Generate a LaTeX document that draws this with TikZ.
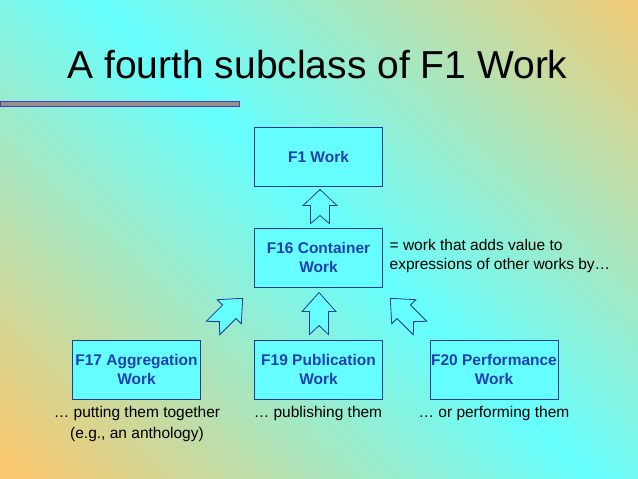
\documentclass[tikz,border=0pt]{standalone}
\usepackage{fontspec}
\setmainfont{Liberation Sans}
\usetikzlibrary{calc}
\definecolor{bgcyan}{HTML}{66FFFF}
\definecolor{bgorange}{HTML}{F8C870}
\definecolor{boxfill}{HTML}{66FFFF}
\definecolor{boxline}{HTML}{1F3A9A}
\definecolor{boxtext}{HTML}{1E40B0}
\definecolor{barfill}{HTML}{9A8E8E}
\definecolor{barline}{HTML}{4B3CC0}
\pgfdeclareverticalshading{bgshade}{100bp}{color(0bp)=(bgorange); color(10bp)=(bgorange); color(50bp)=(bgcyan); color(90bp)=(bgorange); color(100bp)=(bgorange)}
\newcommand\mkblockarrow[5]{%
  \draw[blockarrow, shift={#1}, rotate=#2]
    (#5,0) -- (0,9.5) -- ({#3-#4},9.5) -- ({#3-#4},17) -- (#3,0)
    -- ({#3-#4},-17) -- ({#3-#4},-9.5) -- (0,-9.5) -- cycle;}
\begin{document}
\begin{tikzpicture}[x=1pt,y=-1pt,
  cls/.style={draw=boxline, fill=boxfill, line width=0.9pt,
    minimum width=128pt, minimum height=59pt, inner sep=0pt, align=center,
    font=\fontsize{15.5}{18.5}\selectfont\bfseries, text=boxtext},
  note/.style={inner sep=0pt, font=\fontsize{15.5}{19}\selectfont},
  blockarrow/.style={draw=boxline, fill=boxfill, line width=0.8pt, line join=miter}]
\useasboundingbox (0,0) rectangle (638,479);
\begin{scope}
  \clip (0,0) rectangle (638,479);
  \node[inner sep=0pt, outer sep=0pt, rotate=-44, xscale=11, yscale=9.75] (bg) at (345,240) {\pgfuseshading{bgshade}};
\end{scope}
% title and bar
\node[anchor=base, inner sep=0pt, font=\fontsize{39}{47}\selectfont] (title) at (317.5,78) {A fourth subclass of F1 Work};
\draw[barline, fill=barfill, line width=0.8pt] (0,101.7) rectangle (239,106);
% class boxes
\node[cls] (f1) at (318.5,157) {F1 Work};
\node[cls] (f16) at (318.5,257.5) {F16 Container\\Work};
\node[cls] (f17) at (136.5,369.5) {F17 Aggregation\\Work};
\node[cls] (f19) at (318.5,369.5) {F19 Publication\\Work};
\node[cls] (f20) at (494,369.5) {F20 Performance\\Work};
% notes
\node[note, anchor=west, align=left] (def) at (389.5,256) {= work that adds value to\\expressions of other works by…};
\node[note, align=center, font=\fontsize{15.5}{21.5}\selectfont] (c17) at (137,424) {… putting them together\\(e.g., an anthology)};
\node[note] (c19) at (318,413) {… publishing them};
\node[note] (c20) at (494,413) {… or performing them};
% block arrows
\mkblockarrow{($(f16.north)+(1.5,-4)$)}{90}{34}{16}{8}
\mkblockarrow{($(f19.north)+(0.5,-5)$)}{90}{42}{19}{9}
\mkblockarrow{(213,328)}{45}{42}{19}{9}
\mkblockarrow{(420,328)}{135}{42}{19}{9}
\end{tikzpicture}
\end{document}
